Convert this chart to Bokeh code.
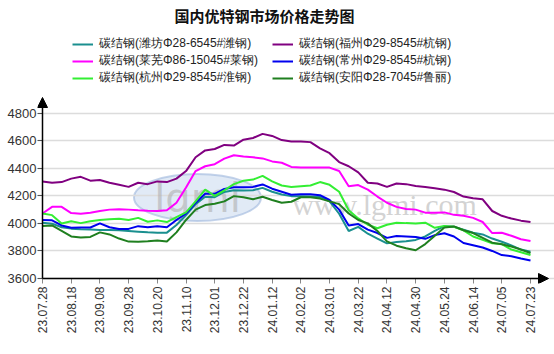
import math
from bokeh.plotting import figure
from bokeh.models import (Range1d, FixedTicker, Legend, LegendItem, Label, Arrow,
                          NormalHead, Ellipse, ColumnDataSource)
from bokeh.embed import file_html
from bokeh.resources import INLINE

# ---------------- data ----------------
tick_labels = ["23.07.28", "23.08.18", "23.09.08", "23.09.28", "23.10.20", "23.11.10",
               "23.12.01", "23.12.22", "24.01.12", "24.02.02", "24.03.01", "24.03.22",
               "24.04.12", "24.04.30", "24.05.24", "24.06.14", "24.07.05", "24.07.23"]

weifang = [4005, 3998, 3972, 3962, 3958, 3955, 3952, 3952, 3950, 3945, 3940, 3935, 3933,
           3933, 3988, 4060, 4140, 4193, 4190, 4228, 4240, 4238, 4240, 4258, 4230, 4210,
           4198, 4198, 4195, 4192, 4160, 4070, 3945, 3975, 3925, 3890, 3855, 3865, 3870,
           3880, 3905, 3945, 3980, 3976, 3955, 3932, 3920, 3890, 3867, 3840, 3810, 3795]

fuzhou = [4305, 4295, 4300, 4325, 4338, 4310, 4315, 4295, 4280, 4265, 4295, 4285, 4305,
          4300, 4325, 4380, 4480, 4530, 4540, 4570, 4565, 4608, 4620, 4650, 4635, 4605,
          4595, 4595, 4590, 4545, 4510, 4445, 4415, 4370, 4295, 4290, 4265, 4290, 4285,
          4272, 4265, 4255, 4245, 4228, 4195, 4182, 4175, 4090, 4055, 4035, 4020, 4010]

laiwu = [4072, 4120, 4120, 4075, 4070, 4078, 4090, 4100, 4102, 4100, 4095, 4092, 4090,
         4095, 4150, 4260, 4380, 4415, 4430, 4470, 4495, 4485, 4480, 4472, 4450, 4440,
         4410, 4405, 4405, 4405, 4405, 4380, 4270, 4278, 4245, 4195, 4150, 4120, 4105,
         4100, 4078, 4078, 4080, 4062, 4055, 4040, 4010, 3930, 3932, 3910, 3885, 3872]

changzhou = [4024, 4022, 3985, 3968, 3970, 3970, 4000, 3972, 3960, 3960, 3980, 3972, 3980,
             3972, 4025, 4072, 4150, 4215, 4215, 4250, 4262, 4262, 4265, 4283, 4252, 4230,
             4208, 4212, 4212, 4205, 4170, 4100, 3985, 3995, 3955, 3930, 3895, 3908, 3905,
             3902, 3888, 3915, 3928, 3905, 3858, 3842, 3825, 3800, 3770, 3762, 3745, 3730]

hangzhou = [4072, 4060, 4000, 4015, 4002, 4015, 4024, 4030, 4034, 4024, 4040, 4012, 4022,
            4010, 4045, 4080, 4160, 4245, 4200, 4240, 4285, 4310, 4318, 4345, 4305, 4275,
            4265, 4270, 4275, 4300, 4280, 4230, 4095, 4036, 3990, 3965, 3990, 4005, 4002,
            4000, 4005, 3968, 3982, 3975, 3950, 3905, 3880, 3855, 3850, 3810, 3790, 3770]

anyang = [3981, 3985, 3945, 3905, 3898, 3902, 3935, 3920, 3890, 3868, 3867, 3870, 3875,
          3868, 3935, 4025, 4100, 4133, 4142, 4160, 4198, 4190, 4175, 4193, 4170, 4150,
          4157, 4190, 4190, 4180, 4160, 4140, 4072, 4025, 4000, 3945, 3870, 3838, 3820,
          3805, 3850, 3910, 3970, 3978, 3950, 3930, 3895, 3860, 3848, 3832, 3810, 3785]

series_names = ["碳结钢(潍坊Φ28-6545#潍钢)", "碳结钢(福州Φ29-8545#杭钢)",
                "碳结钢(莱芜Φ86-15045#莱钢)", "碳结钢(常州Φ29-8545#杭钢)",
                "碳结钢(杭州Φ29-8545#淮钢)", "碳结钢(安阳Φ28-7045#鲁丽)"]
series_values = [weifang, fuzhou, laiwu, changzhou, hangzhou, anyang]
series_colors = ["#1a8f8f", "#800080", "#ff00ff", "#0000ee", "#33ee33", "#1f7f1f"]

y_ticks = [3600, 3800, 4000, 4200, 4400, 4600, 4800]
title_text = "国内优特钢市场价格走势图"

# ---------------- geometry (pixels) ----------------
W, H = 554, 354
n = len(weifang)
step = 3                      # data points per tick interval
ax_x, ax_y = 42, 278          # pixel position of the axes' corner
px_per_i = 488.0 / (n - 1)    # x pixels per data index
px_per_v = 165.3 / 1200.0     # y pixels per price unit
fr_left, fr_bottom = 37, 283  # frame edges (frame spans up to the top/right)


def xi(px):
    return (px - ax_x) / px_per_i


def yv(py):
    return 3600 + (ax_y - py) / px_per_v


y_top = yv(97)                # end of the y axis
x_end = xi(548)               # end of the x axis

p = figure(width=W, height=H, output_backend="svg", toolbar_location=None,
           min_border_left=fr_left, min_border_right=0,
           min_border_top=0, min_border_bottom=H - fr_bottom,
           x_range=Range1d(xi(fr_left), xi(W)), y_range=Range1d(yv(fr_bottom), yv(0)))
p.outline_line_color = None
p.background_fill_color = "white"
p.border_fill_color = "white"

# grid
p.xgrid.grid_line_color = None
p.ygrid.grid_line_color = "#dcdcdc"
p.ygrid.grid_line_width = 1.5
p.ygrid.bounds = (0, n - 1)
p.ygrid.ticker = FixedTicker(ticks=y_ticks)

# axes (labels + ticks; the axis lines themselves are drawn as arrows)
p.yaxis.ticker = FixedTicker(ticks=y_ticks)
p.yaxis.bounds = (3600, y_top)
p.yaxis.axis_line_color = None
p.yaxis.major_tick_out = 0
p.yaxis.major_tick_in = int(ax_x - fr_left)
p.yaxis.minor_tick_line_color = None
p.yaxis.major_tick_line_color = "#555"
p.yaxis.major_label_standoff = 1
p.yaxis.major_label_text_font = "Liberation Sans"
p.yaxis.major_label_text_font_size = "13px"
p.yaxis.major_label_text_color = "#333333"

xt = list(range(0, n, step))
p.xaxis.ticker = FixedTicker(ticks=xt)
p.xaxis.bounds = (0, x_end)
p.xaxis.major_label_overrides = {t: lab for t, lab in zip(xt, tick_labels)}
p.xaxis.major_label_orientation = math.pi / 2
p.xaxis.axis_line_color = None
p.xaxis.major_tick_out = 0
p.xaxis.major_tick_in = int(fr_bottom - ax_y)
p.xaxis.minor_tick_line_color = None
p.xaxis.major_tick_line_color = "#888"
p.xaxis.major_label_standoff = 3
p.xaxis.major_label_text_font = "Liberation Sans"
p.xaxis.major_label_text_font_size = "12px"
p.xaxis.major_label_text_color = "#333333"

# axis lines with arrow heads
p.add_layout(Arrow(x_start=0, y_start=3600, x_end=0, y_end=y_top,
                   line_color="black", line_width=1.5,
                   end=NormalHead(size=10, fill_color="black", line_color="black")))
p.add_layout(Arrow(x_start=0, y_start=3600, x_end=x_end, y_end=3600,
                   line_color="black", line_width=1.5,
                   end=NormalHead(size=10, fill_color="black", line_color="black")))

# watermark
logo_src = ColumnDataSource(dict(x=[xi(197)], y=[yv(197)]))
logo = Ellipse(x="x", y="y", width=127, height=47, width_units="screen",
               height_units="screen", fill_color="#c8d8ef", fill_alpha=0.55,
               line_color="#9db6dc", line_alpha=0.6, line_width=2)
p.add_glyph(logo_src, logo, level="underlay")
p.add_layout(Label(x=197 - fr_left, y=fr_bottom - 197, x_units="screen", y_units="screen",
                   text="lgmi", text_font="DejaVu Sans", text_font_size="40px",
                   text_color="#b0b0b0", text_alpha=0.6, text_align="center",
                   text_baseline="middle", level="underlay"))
p.add_layout(Label(x=384 - fr_left, y=fr_bottom - 204, x_units="screen", y_units="screen",
                   text="www.lgmi.com", text_font="Liberation Serif",
                   text_font_size="30px", text_color="#b5b5b5", text_alpha=0.6,
                   text_align="center", text_baseline="middle", level="underlay"))

# lines
renderers = []
for vals, col in zip(series_values, series_colors):
    r = p.line(list(range(n)), vals, line_color=col, line_width=2)
    renderers.append(r)

# legend: left column weifang/laiwu/hangzhou, right column fuzhou/changzhou/anyang
order = [0, 2, 4, 1, 3, 5]
items = [LegendItem(label=series_names[i], renderers=[renderers[i]]) for i in order]
legend = Legend(items=items, location=(72 - fr_left, fr_bottom - 86), nrows=3,
                orientation="vertical",
                glyph_width=21, glyph_height=12, label_standoff=6, label_width=173,
                label_height=15, spacing=0, padding=0, margin=0,
                border_line_color=None, background_fill_alpha=0,
                label_text_font="Liberation Sans", label_text_font_size="12px",
                label_text_color="#222222")
p.add_layout(legend, "center")

# title
p.add_layout(Label(x=264 - fr_left, y=fr_bottom - 15, x_units="screen", y_units="screen",
                   text=title_text, text_font="Noto Sans CJK SC", text_font_size="15px",
                   text_font_style="bold", text_color="#111111",
                   text_align="center", text_baseline="middle"))

open("out.html", "w").write(file_html(p, INLINE))
